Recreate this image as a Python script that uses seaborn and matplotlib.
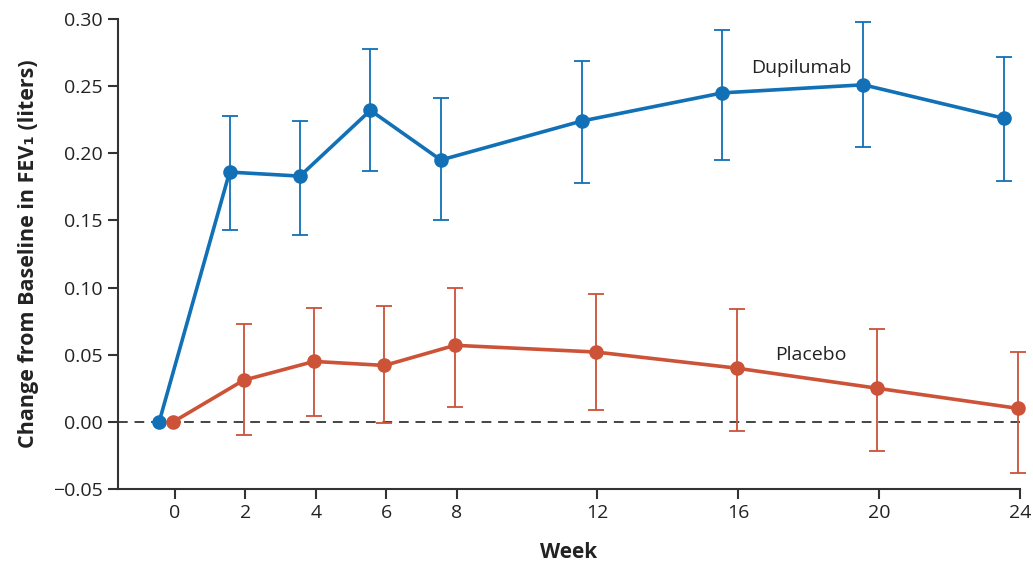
import matplotlib
matplotlib.use("Agg")
import matplotlib.pyplot as plt
import numpy as np
import pandas as pd
import seaborn as sns

weeks = [0, 2, 4, 6, 8, 12, 16, 20, 24]

dupilumab_mean = [0.0, 0.186, 0.183, 0.232, 0.195, 0.224, 0.245, 0.251, 0.226]
dupilumab_low = [np.nan, 0.143, 0.139, 0.187, 0.150, 0.178, 0.195, 0.205, 0.179]
dupilumab_high = [np.nan, 0.228, 0.224, 0.278, 0.241, 0.269, 0.292, 0.298, 0.272]

placebo_mean = [0.0, 0.031, 0.045, 0.042, 0.057, 0.052, 0.040, 0.025, 0.010]
placebo_low = [np.nan, -0.010, 0.004, -0.001, 0.011, 0.009, -0.007, -0.022, -0.038]
placebo_high = [np.nan, 0.073, 0.085, 0.086, 0.100, 0.095, 0.084, 0.069, 0.052]

xticks = [0, 2, 4, 6, 8, 12, 16, 20, 24]
yticks = [-0.05, 0.0, 0.05, 0.10, 0.15, 0.20, 0.25, 0.30]

blue = "#1170b6"
red = "#cc5238"
dark = "#333333"

sns.set_theme(style="ticks")
plt.rcParams['font.family'] = ['Open Sans', 'DejaVu Sans']

df = pd.DataFrame({
    'week': weeks * 2,
    'change': dupilumab_mean + placebo_mean,
    'low': dupilumab_low + placebo_low,
    'high': dupilumab_high + placebo_high,
    'group': ['Dupilumab'] * len(weeks) + ['Placebo'] * len(weeks),
})
# dupilumab points are drawn a little to the left of each visit
offsets = {'Dupilumab': -0.45, 'Placebo': -0.05}
df['x'] = df['week'] + df['group'].map(offsets)

fig = plt.figure(figsize=(10.33, 5.64), dpi=100)
ax = fig.add_axes([0.1142, 0.133, 0.8732, 0.8333])

ax.axhline(0, color="#444444", lw=1.4, ls=(0, (5, 3.5)), zorder=1)

palette = {'Dupilumab': blue, 'Placebo': red}
for name, sub in df.groupby('group'):
    yerr = [sub['change'] - sub['low'], sub['high'] - sub['change']]
    ax.errorbar(sub['x'], sub['change'], yerr=np.nan_to_num(np.array(yerr)),
                fmt='none', ecolor=palette[name], elinewidth=1.3,
                capsize=6, capthick=1.3, zorder=2, clip_on=False)

sns.lineplot(data=df, x='x', y='change', hue='group', palette=palette,
             marker='o', markersize=10.5, markeredgewidth=0, linewidth=2.6,
             legend=False, ax=ax, zorder=3, clip_on=False)

ax.text(17.8, 0.2636, 'Dupilumab', fontsize=14, color="#222222",
        ha='center', va='center')
ax.text(18.05, 0.050, 'Placebo', fontsize=14, color="#222222",
        ha='center', va='center')

ax.set_xlim(-1.62, 24)
ax.set_ylim(-0.05, 0.30)
ax.set_xticks(xticks)
ax.set_xticklabels([str(t) for t in xticks])
ax.set_yticks(yticks)
ax.set_yticklabels(['\u22120.05' if t < 0 else f'{t:.2f}' for t in yticks])

ax.set_xlabel('Week', fontsize=15, fontweight='bold', color="#222222", labelpad=14)
ax.set_ylabel('Change from Baseline in FEV\u2081 (liters)', fontsize=15.5,
              fontweight='bold', color="#222222", labelpad=10)

sns.despine(ax=ax)
for side in ['left', 'bottom']:
    ax.spines[side].set_color(dark)
    ax.spines[side].set_linewidth(1.5)
ax.tick_params(axis='both', length=7, width=1.5, color=dark,
               labelsize=14, labelcolor="#222222", pad=4)

fig.savefig('out.png', dpi=100)
